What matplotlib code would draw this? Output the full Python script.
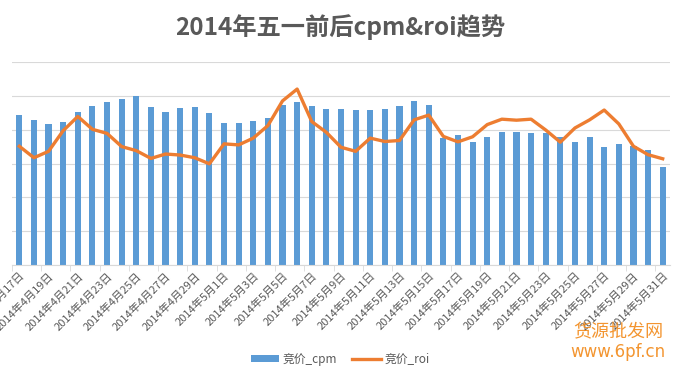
import matplotlib
matplotlib.use("Agg")
import matplotlib.pyplot as plt
import numpy as np
from datetime import date, timedelta

plt.rcParams['font.family'] = ['Noto Sans CJK SC', 'DejaVu Sans']

start = date(2014, 4, 17)
dates = [start + timedelta(days=i) for i in range(45)]
labels = [f"{d.year}年{d.month}月{d.day}日" for d in dates]

cpm = [4.44, 4.29, 4.18, 4.24, 4.53, 4.71, 4.82, 4.91, 5.00, 4.68,
       4.53, 4.65, 4.68, 4.50, 4.20, 4.20, 4.26, 4.35, 4.74, 4.82,
       4.71, 4.62, 4.62, 4.59, 4.59, 4.62, 4.71, 4.85, 4.74, 3.74,
       3.85, 3.65, 3.79, 3.94, 3.94, 3.91, 3.91, 3.79, 3.65, 3.79,
       3.50, 3.59, 3.53, 3.41, 2.91]
roi = [3.51, 3.17, 3.36, 3.97, 4.39, 4.01, 3.89, 3.50, 3.38, 3.15,
       3.28, 3.25, 3.17, 2.99, 3.58, 3.55, 3.75, 4.12, 4.85, 5.20,
       4.24, 3.92, 3.48, 3.36, 3.75, 3.65, 3.68, 4.29, 4.43, 3.80,
       3.64, 3.79, 4.15, 4.31, 4.28, 4.31, 3.99, 3.63, 4.05, 4.29,
       4.58, 4.17, 3.51, 3.26, 3.14]

blue = '#5b9bd5'
orange = '#ed7d31'
grid = '#d9d9d9'
txt = '#595959'

fig = plt.figure(figsize=(6.8, 3.77), dpi=100)
ax = fig.add_axes([12/680, (377-265)/377, 658/680, (265-62)/377])
x = np.arange(len(cpm))
bars = ax.bar(x, cpm, width=0.42, color=blue, label='竞价_cpm', zorder=2)
line, = ax.plot(x, roi, color=orange, lw=2.4, label='竞价_roi', zorder=3,
                solid_joinstyle='round')

ax.set_xlim(-0.5, len(cpm) - 0.5)
ax.set_ylim(0, 6)
ax.set_yticks(range(0, 7))
ax.yaxis.grid(True, color=grid, lw=0.8)
ax.set_axisbelow(True)
ax.tick_params(axis='y', left=False, labelleft=False)
for s in ['top', 'right', 'left']:
    ax.spines[s].set_visible(False)
ax.spines['bottom'].set_color(grid)

ax.set_xticks(x[::2])
ax.set_xticklabels(labels[::2], rotation=45, ha='right', rotation_mode='anchor',
                   fontsize=8, color=txt)
ax.tick_params(axis='x', length=0, pad=4)
ax.set_xticks(np.arange(-0.5, len(cpm), 2), minor=True)
ax.tick_params(axis='x', which='minor', length=4, color=grid)

fig.text(0.5, 1 - 27/377, '2014年五一前后cpm&roi趋势', ha='center', va='center',
         fontsize=17.5, fontweight='bold', color=txt)

leg = fig.legend(handles=[bars, line], labels=['竞价_cpm', '竞价_roi'],
                 loc='center', bbox_to_anchor=(0.5, 1 - 359/377), ncol=2, frameon=False,
                 fontsize=8.5, labelcolor=txt, handlelength=2.4, handletextpad=0.3,
                 columnspacing=1.3, handleheight=0.5)

fig.text(618/680, 1 - 332/377, '货源批发网', ha='center', va='center',
         fontsize=13, color='#f28a1a', alpha=0.9)
fig.text(618/680, 1 - 352/377, 'www.6pf.cn', ha='center', va='center',
         fontsize=12, color='#f28a1a', alpha=0.9, family=['DejaVu Sans'])

fig.savefig('out.png', dpi=100)
